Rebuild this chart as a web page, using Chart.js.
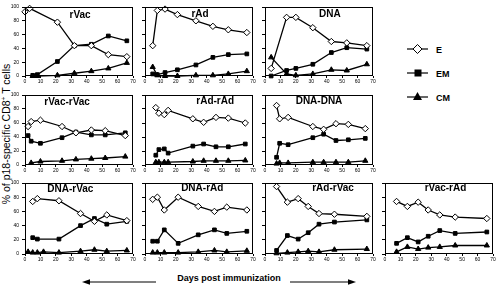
<!DOCTYPE html>
<html>
<head>
<meta charset="utf-8">
<script src="https://cdn.jsdelivr.net/npm/chart.js@4.4.0/dist/chart.umd.min.js"></script>
<style>
  body { margin: 0; background: #fff; width: 498px; height: 288px; position: relative; overflow: hidden;
         font-family: "Liberation Sans", Arial, sans-serif; }
  canvas { position: absolute; }
  #ytitle { position: absolute; left: 6px; top: 134px; transform: translate(-50%, -50%) rotate(-90deg);
            white-space: nowrap; font-size: 10.5px; color: #000; }
  #xtitle { position: absolute; left: 229px; top: 278px; transform: translate(-50%, -50%);
            white-space: nowrap; font-size: 9px; font-weight: bold; }
  svg { position: absolute; left: 0; top: 0; }
</style>
</head>
<body>
<div id="ytitle">% of p18-specific CD8<sup style="font-size:6.5px">+</sup> T cells</div>
<div id="xtitle">Days post immunization</div>
<svg width="498" height="288">
  <!-- arrows -->
  <line x1="87" y1="282" x2="156" y2="282" stroke="#000" stroke-width="1.2"/>
  <polygon points="82,282 90,279.3 90,284.7" fill="#000"/>
  <line x1="290" y1="282" x2="350" y2="282" stroke="#000" stroke-width="1.2"/>
  <polygon points="356,282 348,279.3 348,284.7" fill="#000"/>
  <!-- legend -->
  <line x1="407" y1="49" x2="428" y2="49" stroke="#000" stroke-width="1.2"/>
  <polygon points="417.5,44.5 422,49 417.5,53.5 413,49" fill="#fff" stroke="#000" stroke-width="1"/>
  <text x="436" y="52.5" font-size="9" font-weight="bold" font-family="Liberation Sans, Arial">E</text>
  <line x1="407" y1="73" x2="428" y2="73" stroke="#000" stroke-width="1.2"/>
  <rect x="414.5" y="69.5" width="7" height="7" fill="#000"/>
  <text x="436" y="76.5" font-size="9" font-weight="bold" font-family="Liberation Sans, Arial">EM</text>
  <line x1="407" y1="97" x2="428" y2="97" stroke="#000" stroke-width="1.2"/>
  <polygon points="417.5,92 422,100 413,100" fill="#000"/>
  <text x="436" y="100.5" font-size="9" font-weight="bold" font-family="Liberation Sans, Arial">CM</text>
</svg>
<script>
// axis ticks
const xTicks = [0, 10, 20, 30, 40, 50, 60, 70];
const yTicks = [0, 20, 40, 60, 80, 100];

// primary immunizations
const rVacDays = [5, 8, 21, 32, 43, 54, 66];
const rVacEDays = [0, 3, 21, 32, 43, 54, 66];
const rVacE = [93, 98, 78, 44, 44, 31, 28];
const rVacEM = [1, 2, 21, 44, 46, 58, 51];
const rVacCM = [0, 0, 1, 4, 7, 11, 19];

const rAdDays = [5, 8, 13, 21, 33, 44, 54, 66];
const rAdE = [44, 95, 97, 89, 80, 72, 67, 63];
const rAdEM = [3, 2, 5, 9, 16, 27, 31, 32];
const rAdCM = [13, 1, 0, 0, 1, 1, 3, 7];

const dnaDays = [4, 14, 20, 31, 43, 53, 66];
const dnaE = [11, 85, 85, 70, 50, 48, 44];
const dnaEM = [0, 8, 11, 17, 34, 41, 39];
const dnaCM = [27, 3, 1, 3, 9, 8, 17];

// homologous boosts
const rVacrVacDays = [2, 4, 10, 24, 33, 43, 52, 65];
const rVacrVacE = [55, 62, 64, 55, 46, 50, 49, 42];
const rVacrVacEM = [42, 34, 31, 39, 47, 43, 43, 46];
const rVacrVacCM = [null, 3, 5, 6, 8, 9, 10, 12];

const rAdrAdDays = [7, 9, 12.5, 15, 31, 38, 46, 54, 65];
const rAdrAdE = [82, 74, 72, 78, 66, 61, 68, 67, 60];
const rAdrAdEM = [14, 22, 23, 17, 27, 30, 26, 26, 30];
const rAdrAdCM = [4, 4, 4, 4, 5, 6, 6, 6, 6.5];

const dnaDnaDays = [7.5, 9.5, 15, 31, 38, 46, 54, 65];
const dnaDnaE = [85, 66, 68, 55, 51, 59, 58, 52];
const dnaDnaEM = [11, 31, 29, 39, 44, 35, 36, 38];
const dnaDnaCM = [2, 3, 3, 4, 4, 4, 4, 6];

// heterologous boosts
const dnaRVacDays = [2, 5, 8, 12, 22, 36, 45, 53, 66];
const dnaRVacE = [null, 74, 78, null, 75, 57, 46, 55, 47];
const dnaRVacEM = [null, 23, 21, null, 21, 40, 50, 42, 46];
const dnaRVacCM = [3, 2, 2, 3, 2, 4, 6, 4, 5];

const dnaRAdDays = [5, 8, 12.5, 21.5, 34.5, 45, 53, 66];
const dnaRAdE = [77, 80, 62, 80, 67, 60, 66, 62];
const dnaRAdEM = [18, 18, 34, 15, 27, 34, 29, 32];
const dnaRAdCM = [2, 2, 2, 2, 3, 5, 3, 4.5];

const rAdRVacDays = [7.5, 14.5, 21.5, 28, 35, 45, 66];
const rAdRVacE = [95, 73, 78, 67, 57, 56, 53];
const rAdRVacEM = [5, 26, 21, 30, 42, 45, 48];
const rAdRVacCM = [1, 2, 3, 4, 3, 6, 7];

const rVacRAdDays = [7.5, 14.5, 21.5, 28, 35.5, 45.5, 66];
const rVacRAdE = [74, 67, 73, 62, 55, 52, 50];
const rVacRAdEM = [15, 23, 17, 25, 33, 29, 31];
const rVacRAdCM = [3, 10, 7, 9, 10, 12, 12];

// panel placement: plot-area left x, top/bottom y
const colX = [25, 145, 265, 385];
const rowY = [[5, 76], [93, 165], [181, 254]];

const panels = [
  { title: 'rVac', row: 0, col: 0, tx: 0.51, ty: 8, days: rVacDays, eDays: rVacEDays, E: rVacE, EM: rVacEM, CM: rVacCM },
  { title: 'rAd', row: 0, col: 1, tx: 0.51, ty: 7, days: rAdDays, E: rAdE, EM: rAdEM, CM: rAdCM },
  { title: 'DNA', row: 0, col: 2, tx: 0.60, ty: 7, days: dnaDays, E: dnaE, EM: dnaEM, CM: dnaCM },
  { title: 'rVac-rVac', row: 1, col: 0, tx: 0.39, ty: 7, days: rVacrVacDays, E: rVacrVacE, EM: rVacrVacEM, CM: rVacrVacCM },
  { title: 'rAd-rAd', row: 1, col: 1, tx: 0.65, ty: 6, days: rAdrAdDays, E: rAdrAdE, EM: rAdrAdEM, CM: rAdrAdCM },
  { title: 'DNA-DNA', row: 1, col: 2, tx: 0.50, ty: 6, days: dnaDnaDays, E: dnaDnaE, EM: dnaDnaEM, CM: dnaDnaCM },
  { title: 'DNA-rVac', row: 2, col: 0, tx: 0.42, ty: 6, days: dnaRVacDays, E: dnaRVacE, EM: dnaRVacEM, CM: dnaRVacCM },
  { title: 'DNA-rAd', row: 2, col: 1, tx: 0.53, ty: 5, days: dnaRAdDays, E: dnaRAdE, EM: dnaRAdEM, CM: dnaRAdCM },
  { title: 'rAd-rVac', row: 2, col: 2, tx: 0.63, ty: 5, days: rAdRVacDays, E: rAdRVacE, EM: rAdRVacEM, CM: rAdRVacCM },
  { title: 'rVac-rAd', row: 2, col: 3, tx: 0.56, ty: 5, days: rVacRAdDays, E: rVacRAdE, EM: rVacRAdEM, CM: rVacRAdCM },
];

function pts(days, vals) {
  return days.map((d, i) => ({ x: d, y: vals[i] })).filter(p => p.y != null);
}

// box around the plot + panel title inside it
const panelDeco = {
  id: 'panelDeco',
  afterDraw(chart, args, opts) {
    const { ctx, chartArea: a } = chart;
    ctx.save();
    ctx.strokeStyle = '#000';
    ctx.lineWidth = 1;
    ctx.strokeRect(Math.round(a.left) + 0.5, Math.round(a.top) + 0.5,
      Math.round(a.right - a.left) - 1, Math.round(a.bottom - a.top) - 1);
    ctx.fillStyle = '#000';
    ctx.font = 'bold 10px "Liberation Sans", Arial';
    ctx.textAlign = 'center';
    ctx.textBaseline = 'middle';
    ctx.fillText(opts.text, a.left + opts.tx * (a.right - a.left), a.top + opts.ty);
    ctx.restore();
  }
};

const W = 132;
panels.forEach(p => {
  const top = rowY[p.row][0], bottom = rowY[p.row][1];
  const H = 4 + (bottom - top) + 12;
  const cv = document.createElement('canvas');
  cv.width = W; cv.height = H;
  cv.style.left = (colX[p.col] - 20) + 'px';
  cv.style.top = (top - 4) + 'px';
  document.body.appendChild(cv);

  const base = { borderColor: '#000', borderWidth: 1.3, pointBorderColor: '#000', pointBorderWidth: 1,
                 tension: 0, spanGaps: true, clip: false };
  new Chart(cv, {
    type: 'line',
    data: {
      datasets: [
        { ...base, label: 'E', data: pts(p.eDays || p.days, p.E), pointStyle: 'rectRot', pointRadius: 3.2,
          pointBackgroundColor: '#fff' },
        { ...base, label: 'EM', data: pts(p.days, p.EM), pointStyle: 'rect', pointRadius: 2.6,
          pointBackgroundColor: '#000' },
        { ...base, label: 'CM', data: pts(p.days, p.CM), pointStyle: 'triangle', pointRadius: 3,
          pointBackgroundColor: '#000' },
      ]
    },
    options: {
      responsive: false,
      animation: false,
      events: [],
      layout: { padding: { top: 4, right: 4, left: 0, bottom: 0 }, autoPadding: false },
      plugins: {
        legend: { display: false },
        tooltip: { enabled: false },
        panelDeco: { text: p.title, tx: p.tx, ty: p.ty }
      },
      scales: {
        x: {
          type: 'linear', min: 0, max: 70,
          afterFit: s => { s.height = 12; },
          afterBuildTicks: s => { s.ticks = xTicks.map(v => ({ value: v })); },
          border: { display: false },
          grid: { drawOnChartArea: false, drawTicks: true, tickLength: 2, color: '#000', lineWidth: 1 },
          ticks: { font: { size: 5, family: '"Liberation Sans", Arial' }, color: '#000', padding: 1,
                   maxRotation: 0, autoSkip: false }
        },
        y: {
          min: 0, max: 100,
          afterFit: s => { s.width = 20; },
          afterBuildTicks: s => { s.ticks = yTicks.map(v => ({ value: v })); },
          border: { display: false },
          grid: { drawOnChartArea: false, drawTicks: true, tickLength: 3, color: '#000', lineWidth: 1 },
          ticks: { font: { size: 5, family: '"Liberation Sans", Arial' }, color: '#000', padding: 3,
                   autoSkip: false, callback: v => (p.col === 0 ? v : '') }
        }
      }
    },
    plugins: [panelDeco]
  });
});
</script>
</body>
</html>
